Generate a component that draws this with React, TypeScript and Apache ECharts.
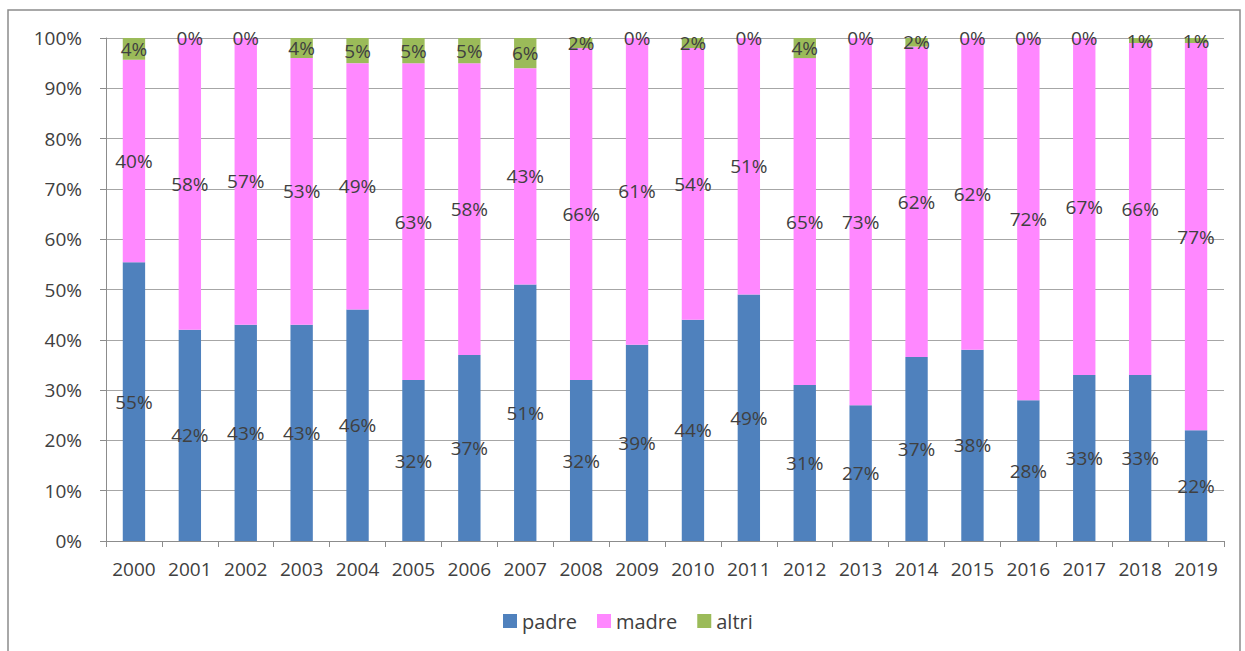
import React, { useEffect, useRef } from "react";
import * as echarts from "echarts";

const years = ["2000","2001","2002","2003","2004","2005","2006","2007","2008","2009","2010","2011","2012","2013","2014","2015","2016","2017","2018","2019"];
const padre = [55.4,42,43,43,46,32,37,51,32,39,44,49,31,27,36.6,38,28,33,33,22];
const madre = [40.3,58,57,53,49,63,58,43,66,61,54,51,65,73,61.7,62,72,67,66,77];
const altri = [4.3,0,0,4,5,5,5,6,2,0,2,0,4,0,1.7,0,0,0,1,1];
const yTicks = [0,10,20,30,40,50,60,70,80,90,100];

const FONT = "'Open Sans', 'DejaVu Sans', sans-serif";
const LABEL_COLOR = "#404040";

export default function App() {
  const ref = useRef<HTMLDivElement>(null);
  useEffect(() => {
    document.body.style.margin = "0";
    const chart = echarts.init(ref.current!, null, { renderer: "svg" });
    const label = {
      show: true,
      position: "inside",
      formatter: (p: any) => Math.round(p.value) + "%",
      color: LABEL_COLOR,
      fontFamily: FONT,
      fontSize: 19,
    };
    chart.setOption({
      animation: false,
      backgroundColor: "#ffffff",
      graphic: [
        {
          type: "rect",
          shape: { x: 8, y: 10, width: 1232, height: 660 },
          style: { fill: "none", stroke: "#8c8c8c", lineWidth: 1.5 },
          silent: true,
        },
      ],
      grid: { left: 106, right: 21, top: 38, bottom: 110 },
      legend: {
        top: 606,
        left: 498,
        itemWidth: 14,
        itemHeight: 14,
        itemGap: 20,
        icon: "rect",
        textStyle: { fontFamily: FONT, fontSize: 20, color: LABEL_COLOR },
        data: ["padre", "madre", "altri"],
      },
      xAxis: {
        type: "category",
        data: years,
        axisLine: { lineStyle: { color: "#8c8c8c", width: 1 } },
        axisTick: { show: true, length: 6, lineStyle: { color: "#8c8c8c" } },
        axisLabel: { fontFamily: FONT, fontSize: 19, color: LABEL_COLOR, margin: 18, interval: 0 },
      },
      yAxis: {
        type: "value",
        min: yTicks[0],
        max: yTicks[yTicks.length - 1],
        interval: 10,
        axisLine: { show: true, lineStyle: { color: "#8c8c8c" } },
        axisTick: { show: true, length: 6, lineStyle: { color: "#8c8c8c" } },
        splitLine: { lineStyle: { color: "#a6a6a6", width: 1 } },
        axisLabel: { fontFamily: FONT, fontSize: 19, color: LABEL_COLOR, margin: 24, formatter: "{value}%" },
      },
      series: [
        { name: "padre", type: "bar", stack: "t", data: padre, barWidth: "40%", itemStyle: { color: "#4F81BD" }, label },
        { name: "madre", type: "bar", stack: "t", data: madre, barWidth: "40%", itemStyle: { color: "#FF88FF" }, label },
        { name: "altri", type: "bar", stack: "t", data: altri, barWidth: "40%", itemStyle: { color: "#9BBB59" }, label },
      ],
    });
    return () => chart.dispose();
  }, []);
  return <div ref={ref} style={{ width: 1245, height: 651 }} />;
}
